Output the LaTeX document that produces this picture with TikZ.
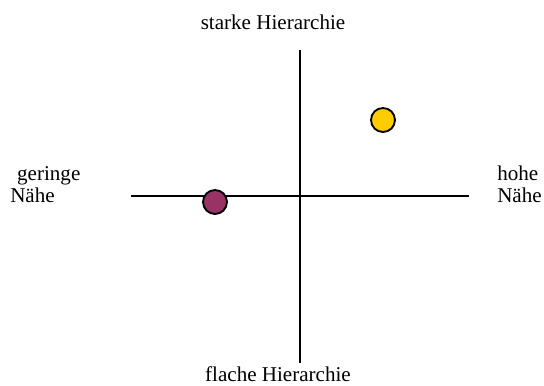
\documentclass[tikz,border=0pt]{standalone}
\usepackage{fontspec}
\setmainfont{Liberation Serif}
\definecolor{dotpurple}{RGB}{153,51,102}
\definecolor{dotyellow}{RGB}{255,204,0}
\begin{document}
\begin{tikzpicture}[x=0.75pt,y=-0.75pt,
  axis/.style={line width=1.5pt},
  dot/.style={circle,draw=black,line width=1.4pt,minimum size=18pt,inner sep=0pt},
  lbl/.style={font=\fontsize{15.8}{16.5}\selectfont,inner sep=0pt}]
\useasboundingbox (0,0) rectangle (544,386);
\coordinate (top) at (300,50);
\coordinate (bot) at (300,363);
\coordinate (left) at (131,196);
\coordinate (right) at (469,196);
\draw[axis] (top) -- (bot);
\draw[axis] (left) -- (right);
\node[dot,fill=dotpurple] (p) at (215,202) {};
\node[dot,fill=dotyellow] (y) at (383,120) {};
\node[lbl,anchor=base] (t) at (273,29) {starke Hierarchie};
\node[lbl,anchor=base] (b) at (278,381) {flache Hierarchie};
\node[lbl,anchor=base west,align=left] (l) at (10,202) {\hspace*{5.2pt}geringe\\Nähe};
\node[lbl,anchor=base west,align=left] (r) at (497,202) {hohe\\Nähe};
\end{tikzpicture}
\end{document}
